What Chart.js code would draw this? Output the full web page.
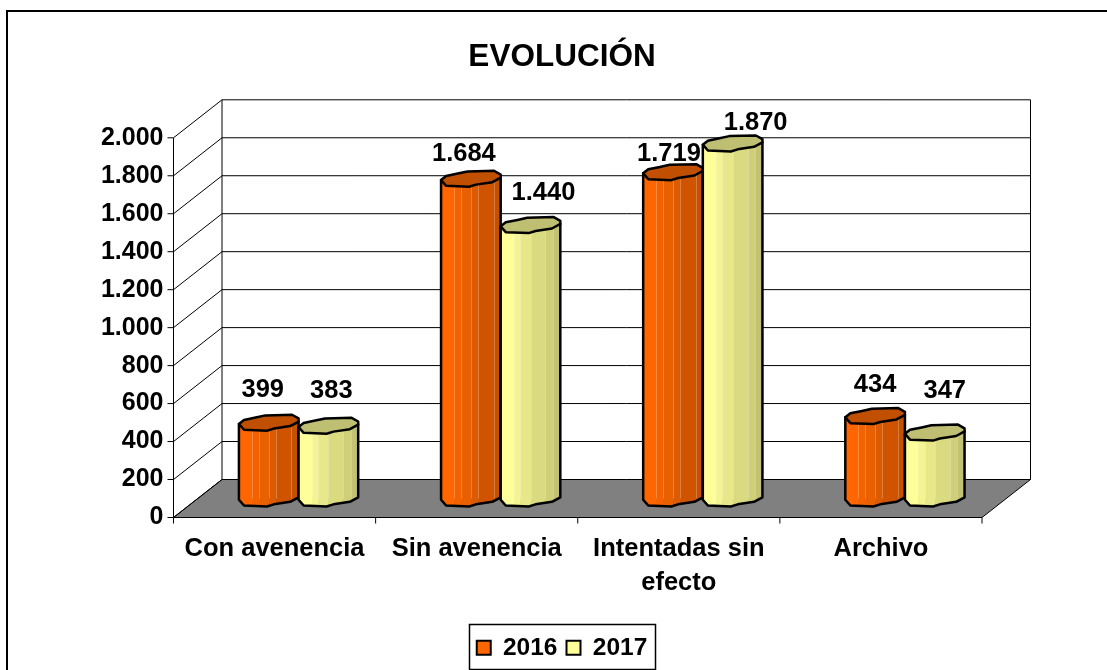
<!DOCTYPE html>
<html>
<head>
<meta charset="utf-8">
<style>
  html, body { margin: 0; padding: 0; background: #fff; overflow: hidden; }
  #wrap { position: relative; width: 1107px; height: 670px; }
</style>
<script src="https://cdn.jsdelivr.net/npm/chart.js@4"></script>
</head>
<body>
<div id="wrap"><canvas id="evolucion" width="1107" height="670"></canvas></div>
<script>
const categories = ["Con avenencia", "Sin avenencia", ["Intentadas sin", "efecto"], "Archivo"];
const seriesNames = ["2016", "2017"];
const values2016 = [399, 1684, 1719, 434];
const values2017 = [383, 1440, 1870, 347];
const yMax = 2000;
const yStep = 200;

// look of each series: flat facets running left to right, then the lid
const orangeLook = {
  base: "#ff6600", lid: "#c05000",
  facets: ["#ff6600", "#f46200", "#e86000", "#dc5a00", "#d05400", "#c45000"],
  stops: [0, 0.22, 0.33, 0.5, 0.62, 0.88]
};
const yellowLook = {
  base: "#ffff99", lid: "#bfbf73",
  facets: ["#ffff99", "#f4f491", "#e8e88a", "#dada80", "#cfcf7a", "#c2c274"],
  stops: [0, 0.22, 0.33, 0.5, 0.75, 0.88]
};

// room behind the front plane of the plot
const DEPTH_X = 48.5;
const DEPTH_Y = 38;
const MID_X = 24;
const MID_Y = 19;
const CAP_H = 8;

// outline of the lid, right half-turn from the left point along the back, then the front
const capBack = [[-1, -0.15], [-0.83, 0.35], [-0.44, 0.65], [-0.11, 0.92], [0.78, 1], [1, 0.54], [1, 0.15]];
const capFront = [[0.72, -0.42], [0.17, -0.73], [-0.06, -1], [-0.83, -0.88]];

// label nudges from the spot above each lid [series][category]
const labelNudgeX = [[-6, -7, -4, 0], [3, 13, 23, 10]];
const labelNudgeY = [[-33, -25, -18, -31], [-35, -32, -21, -42]];

const frame = { left: 7, top: 11 };
const legendBox = { left: 469, top: 624, right: 655, bottom: 669 };

const line = (ctx, x1, y1, x2, y2) => {
  ctx.beginPath();
  ctx.moveTo(x1, y1);
  ctx.lineTo(x2, y2);
  ctx.stroke();
};

const room3d = {
  id: "room3d",
  // tick labels get clipped to the scale box, so open it up to the canvas edge
  afterLayout(chart) {
    chart.scales.y.left = 0;
  },
  beforeDraw(chart) {
    const { ctx, chartArea: a, scales: { y } } = chart;
    ctx.save();
    ctx.strokeStyle = "#000";
    ctx.lineWidth = 2;
    line(ctx, frame.left, chart.height, frame.left, frame.top);
    line(ctx, frame.left - 1, frame.top, chart.width, frame.top);
    ctx.lineWidth = 1;

    // floor
    ctx.fillStyle = "#808080";
    ctx.beginPath();
    ctx.moveTo(a.left, a.bottom);
    ctx.lineTo(a.right, a.bottom);
    ctx.lineTo(a.right + DEPTH_X, a.bottom - DEPTH_Y);
    ctx.lineTo(a.left + DEPTH_X, a.bottom - DEPTH_Y);
    ctx.closePath();
    ctx.fill();
    ctx.stroke();

    // gridlines run along the back wall and down the side wall
    y.ticks.forEach(t => {
      const py = y.getPixelForValue(t.value);
      if (t.value > 0) line(ctx, a.left + DEPTH_X, py - DEPTH_Y, a.right + DEPTH_X, py - DEPTH_Y);
      line(ctx, a.left, py, a.left + DEPTH_X, py - DEPTH_Y);
      line(ctx, a.left - 6, py, a.left, py);
    });
    line(ctx, a.left, a.top, a.left, a.bottom);
    line(ctx, a.left + DEPTH_X, a.top - DEPTH_Y, a.left + DEPTH_X, a.bottom - DEPTH_Y);
    line(ctx, a.right + DEPTH_X, a.top - DEPTH_Y, a.right + DEPTH_X, a.bottom - DEPTH_Y);

    // category ticks under the floor
    const w = (a.right - a.left) / categories.length;
    for (let i = 0; i <= categories.length; i++) {
      line(ctx, a.left + w * i, a.bottom, a.left + w * i, a.bottom + 6);
    }
    ctx.restore();
  },
  afterDatasetsDraw(chart) {
    const { ctx, scales: { y } } = chart;
    const zero = y.getPixelForValue(0);
    chart.data.datasets.forEach((ds, di) => {
      const look = di === 0 ? orangeLook : yellowLook;
      chart.getDatasetMeta(di).data.forEach(bar => {
        drawCylinder(ctx, bar.x + MID_X, bar.width / 2, bar.y - MID_Y, zero - MID_Y, look);
      });
    });
    ctx.save();
    ctx.fillStyle = "#000";
    ctx.font = "bold 25.5px 'Liberation Sans'";
    ctx.textAlign = "center";
    ctx.textBaseline = "middle";
    chart.data.datasets.forEach((ds, di) => {
      chart.getDatasetMeta(di).data.forEach((bar, i) => {
        ctx.fillText(fmt(ds.data[i]), bar.x + MID_X + labelNudgeX[di][i], bar.y - MID_Y + labelNudgeY[di][i]);
      });
    });
    ctx.restore();
  },
  afterDraw(chart) {
    const { ctx } = chart;
    ctx.save();
    ctx.strokeStyle = "#000";
    ctx.lineWidth = 1.5;
    ctx.strokeRect(legendBox.left + 0.5, legendBox.top + 0.5,
      legendBox.right - legendBox.left, legendBox.bottom - legendBox.top);
    ctx.restore();
  }
};

function fmt(v) {
  return v >= 1000 ? Math.floor(v / 1000) + "." + String(v % 1000).padStart(3, "0") : String(v);
}

function drawCylinder(ctx, cx, hw, top, bottom, look) {
  const pts = (arr, cy) => arr.map(p => [cx + p[0] * hw, cy - p[1] * CAP_H]);
  const grad = ctx.createLinearGradient(cx - hw, 0, cx + hw, 0);
  look.facets.forEach((c, i) => {
    const next = i + 1 < look.stops.length ? look.stops[i + 1] : 1;
    grad.addColorStop(look.stops[i], c);
    grad.addColorStop(next, c);
  });
  ctx.save();
  ctx.lineJoin = "round";
  ctx.strokeStyle = "#000";
  ctx.lineWidth = 2.5;

  // body: down the left side, along the front of the base, up the right side
  const left = pts([capBack[0]], top)[0];
  const right = pts([capBack[capBack.length - 1]], top)[0];
  const outline = () => {
    ctx.beginPath();
    ctx.moveTo(left[0], left[1]);
    ctx.lineTo(left[0], bottom - capBack[0][1] * CAP_H);
    pts(capFront.slice().reverse(), bottom).forEach(p => ctx.lineTo(p[0], p[1]));
    ctx.lineTo(right[0], bottom - capBack[capBack.length - 1][1] * CAP_H);
    ctx.lineTo(right[0], right[1]);
    ctx.closePath();
  };
  outline();
  ctx.fillStyle = grad;
  ctx.fill();

  // pale seams where the facets meet
  ctx.save();
  ctx.strokeStyle = "rgba(255,255,255,0.25)";
  ctx.lineWidth = 1;
  look.stops.slice(1).forEach(s => {
    const sx = Math.round(cx - hw + s * hw * 2) + 0.5;
    line(ctx, sx, top, sx, bottom);
  });
  ctx.restore();
  outline();
  ctx.stroke();

  // lid
  ctx.beginPath();
  pts(capBack.concat(capFront), top).forEach((p, i) => i ? ctx.lineTo(p[0], p[1]) : ctx.moveTo(p[0], p[1]));
  ctx.closePath();
  ctx.fillStyle = look.lid;
  ctx.fill();
  ctx.stroke();
  ctx.restore();
}

new Chart("evolucion", {
  type: "bar",
  plugins: [room3d],
  data: {
    labels: categories,
    datasets: [
      { label: seriesNames[0], data: values2016, backgroundColor: "transparent", borderWidth: 0, barPercentage: 1, categoryPercentage: 0.59 },
      { label: seriesNames[1], data: values2017, backgroundColor: "transparent", borderWidth: 0, barPercentage: 1, categoryPercentage: 0.59 }
    ]
  },
  options: {
    responsive: false,
    animation: false,
    layout: { padding: { left: 142, right: 125, top: 0, bottom: 0 } },
    plugins: {
      tooltip: { enabled: false },
      title: {
        display: true,
        text: "EVOLUCIÓN",
        color: "#000",
        font: { family: "'Liberation Sans'", size: 31.5, weight: "bold" },
        padding: { top: 38, bottom: 62 },
        fullSize: true
      },
      legend: {
        position: "bottom",
        onClick: null,
        labels: {
          color: "#000",
          font: { family: "'Liberation Sans'", size: 24.5, weight: "bold" },
          boxWidth: 14,
          boxHeight: 14,
          padding: 9,
          generateLabels: () => [orangeLook, yellowLook].map((l, i) => ({
            text: seriesNames[i], fillStyle: l.base, strokeStyle: "#000", lineWidth: 2, datasetIndex: i
          }))
        }
      }
    },
    scales: {
      x: {
        grid: { display: false },
        border: { display: false },
        afterFit: s => { s.height = 109; },
        ticks: {
          color: "#000",
          padding: 6,
          autoSkip: false,
          maxRotation: 0,
          font: { family: "'Liberation Sans'", size: 25.5, weight: "bold", lineHeight: 1.35 }
        }
      },
      y: {
        min: 0,
        max: yMax,
        grid: { display: false },
        border: { display: false },
        afterFit: s => { s.width = 31.5; },
        ticks: {
          stepSize: yStep,
          color: "#000",
          padding: 2,
          font: { family: "'Liberation Sans'", size: 25, weight: "bold" },
          callback: v => fmt(v)
        }
      }
    }
  }
});
</script>
</body>
</html>
